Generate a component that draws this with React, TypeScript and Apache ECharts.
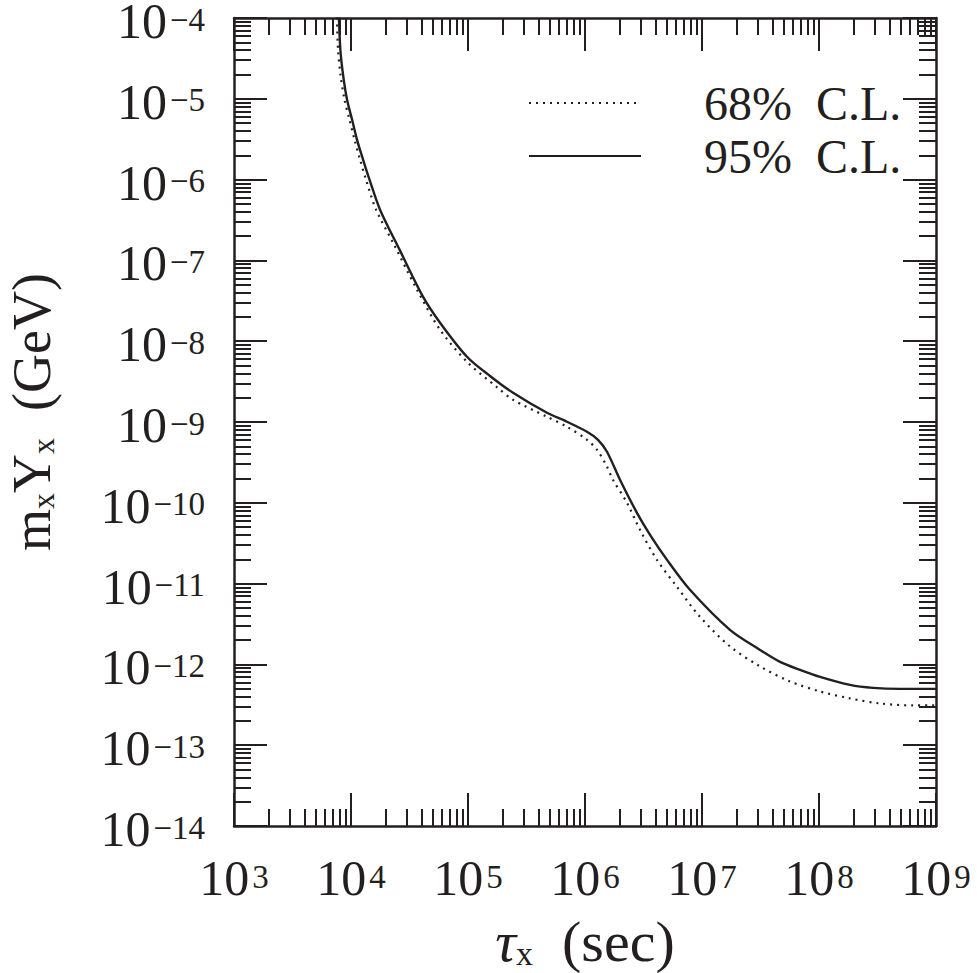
import React, { useEffect, useRef } from "react";
import * as echarts from "echarts";

// Decade exponents shown on the axes
const xExponents = [3, 4, 5, 6, 7, 8, 9];
const yExponents = [-14, -13, -12, -11, -10, -9, -8, -7, -6, -5, -4];

// Series names
const seriesNames = ["68%\u00a0\u00a0C.L.", "95%\u00a0\u00a0C.L."];

// 68% C.L. (dotted) : log10(tau / sec), log10(m Y / GeV)
const logTau68 = [3.88, 3.889, 3.91, 3.944, 3.987, 4.03, 4.077, 4.128, 4.214, 4.359, 4.564, 4.761, 4.991, 5.248, 5.385, 5.675, 5.846, 6.017, 6.103, 6.188, 6.239, 6.359, 6.47, 6.615, 6.786, 6.983, 7.239, 7.496, 7.752, 8.009, 8.265, 8.521, 8.803, 8.991];
const logM68 = [-3.995, -4.39, -4.7, -5.009, -5.257, -5.505, -5.752, -6.0, -6.372, -6.78, -7.362, -7.858, -8.254, -8.57, -8.725, -8.935, -9.059, -9.22, -9.344, -9.554, -9.715, -10.0, -10.334, -10.706, -11.04, -11.412, -11.777, -12.025, -12.211, -12.335, -12.421, -12.483, -12.508, -12.508];

// 95% C.L. (solid)
const logTau95 = [3.897, 3.909, 3.932, 3.966, 4.009, 4.051, 4.103, 4.158, 4.248, 4.415, 4.615, 4.761, 4.991, 5.188, 5.385, 5.675, 5.846, 6.017, 6.111, 6.188, 6.299, 6.444, 6.556, 6.701, 6.897, 7.239, 7.496, 7.667, 7.838, 8.009, 8.265, 8.462, 8.692, 8.991];
const logM95 = [-3.995, -4.39, -4.7, -5.009, -5.257, -5.505, -5.752, -6.0, -6.372, -6.867, -7.449, -7.771, -8.192, -8.43, -8.638, -8.885, -8.997, -9.121, -9.22, -9.368, -9.715, -10.124, -10.396, -10.706, -11.077, -11.573, -11.821, -11.969, -12.068, -12.155, -12.254, -12.291, -12.303, -12.303];

const FONT = "Liberation Serif";
const INK = "#231f20";

function minorPositions(exps: number[]) {
  const out: number[] = [];
  for (let i = 0; i < exps.length - 1; i++) {
    for (let k = 2; k <= 9; k++) out.push(exps[i] + Math.log10(k));
  }
  return out;
}

const labelRich = {
  b: { fontSize: 50, fontFamily: FONT, color: INK, lineHeight: 36 },
  s: { fontSize: 33, fontFamily: FONT, color: INK, lineHeight: 22, verticalAlign: "top" as const, padding: [0, 0, 0, 3] },
};

const titleRich = (size: number, subSize: number) => ({
  a: { fontSize: size, fontFamily: FONT, color: INK, lineHeight: size },
  i: { fontSize: size, fontFamily: FONT, color: INK, lineHeight: size, fontStyle: "italic" as const },
  sub: { fontSize: subSize, fontFamily: FONT, color: INK, lineHeight: subSize, verticalAlign: "bottom" as const },
});

export default function App() {
  const ref = useRef<HTMLDivElement>(null);
  useEffect(() => {
    if (!ref.current) return;
    const chart = echarts.init(ref.current, undefined, { renderer: "svg" });
    const xMin = xExponents[0];
    const xMax = xExponents[xExponents.length - 1];
    const yMin = yExponents[0];
    const yMax = yExponents[yExponents.length - 1];
    const xMinor = minorPositions(xExponents);
    const yMinor = minorPositions(yExponents);

    const baseAxis = (min: number, max: number) => ({
      type: "value" as const,
      min,
      max,
      interval: 1,
      splitLine: { show: false },
      axisLine: { show: true, onZero: false, lineStyle: { color: INK, width: 2.5 } },
    });
    const majorTick = { show: true, inside: true, length: 33, lineStyle: { color: INK, width: 2 } };
    const minorTick = (vals: number[]) => ({
      show: true,
      inside: true,
      length: 17,
      customValues: vals,
      lineStyle: { color: INK, width: 2 },
    });

    const option: any = {
      animation: false,
      backgroundColor: "#ffffff",
      grid: { left: 234, right: 41, top: 18, bottom: 147, containLabel: false, outerBoundsMode: "none" },
      legend: {
        orient: "vertical",
        left: 523,
        top: 74,
        itemWidth: 112,
        itemHeight: 14,
        itemGap: 5,
        itemStyle: { opacity: 0, color: "transparent", borderWidth: 0 },
        textStyle: { fontSize: 48, fontFamily: FONT, color: INK, lineHeight: 48, padding: [0, 0, 0, 58] },
        data: seriesNames,
      },
      xAxis: [
        {
          ...baseAxis(xMin, xMax),
          position: "bottom",
          axisTick: majorTick,
          axisLabel: {
            show: true,
            margin: 34,
            formatter: (v: number) => `{b|10}{s|${v}}`,
            rich: labelRich,
          },
          name: "{i|τ}{sub|x}{a|\u00a0\u00a0(sec)}",
          nameLocation: "middle",
          nameGap: 86,
          nameTextStyle: { rich: titleRich(58, 34) },
        },
        { ...baseAxis(xMin, xMax), position: "top", axisTick: majorTick, axisLabel: { show: false } },
        { ...baseAxis(xMin, xMax), position: "bottom", axisLine: { show: false }, axisTick: minorTick(xMinor), axisLabel: { show: false } },
        { ...baseAxis(xMin, xMax), position: "top", axisLine: { show: false }, axisTick: minorTick(xMinor), axisLabel: { show: false } },
      ],
      yAxis: [
        {
          ...baseAxis(yMin, yMax),
          position: "left",
          axisTick: majorTick,
          axisLabel: {
            show: true,
            margin: 29,
            padding: [6, 0, 0, 0],
            formatter: (v: number) => `{b|10}{s|\u2212${-v}}`,
            rich: labelRich,
          },
          name: "{a|m}{sub|x}{a|Y}{sub|x}{a|\u00a0\u00a0(GeV)}",
          nameLocation: "middle",
          nameRotate: 90,
          nameGap: 175,
          nameTextStyle: { rich: titleRich(54, 32), padding: [0, 0, 0, 20] },
        },
        { ...baseAxis(yMin, yMax), position: "right", axisTick: majorTick, axisLabel: { show: false } },
        { ...baseAxis(yMin, yMax), position: "left", axisLine: { show: false }, axisTick: minorTick(yMinor), axisLabel: { show: false } },
        { ...baseAxis(yMin, yMax), position: "right", axisLine: { show: false }, axisTick: minorTick(yMinor), axisLabel: { show: false } },
      ],
      series: [
        {
          name: seriesNames[0],
          type: "line",
          xAxisIndex: 0,
          yAxisIndex: 0,
          symbol: "none",
          smooth: 0.3,
          lineStyle: { color: INK, width: 2.2, type: [2, 5] },
          itemStyle: { color: INK },
          data: logTau68.map((x, i) => [x, logM68[i]]),
        },
        {
          name: seriesNames[1],
          type: "line",
          xAxisIndex: 0,
          yAxisIndex: 0,
          symbol: "none",
          smooth: 0.3,
          lineStyle: { color: INK, width: 2.4, type: "solid" },
          itemStyle: { color: INK },
          data: logTau95.map((x, i) => [x, logM95[i]]),
        },
      ],
    };
    chart.setOption(option);
    return () => chart.dispose();
  }, []);
  return <div ref={ref} style={{ width: 977, height: 973, position: "absolute", left: 0, top: 0, background: "#fff" }} />;
}
